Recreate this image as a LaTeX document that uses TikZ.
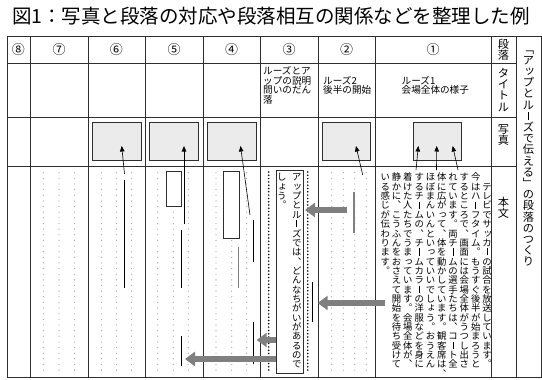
\documentclass[tikz,border=0pt]{standalone}
\usepackage{fontspec}
\usepackage{graphicx}
\usetikzlibrary{arrows.meta}
\newfontfamily\cjk{Noto Sans CJK JP}
\makeatletter
\def\vt@maru{。}
\def\vt@ten{、}
\def\vt@bou{ー}
\def\vt@lk{「}
\def\vt@rk{」}
\newcommand\vt[1]{\vbox{\offinterlineskip\vt@loop#1\relax}}
\def\vt@loop#1{\ifx\relax#1\else\vt@char{#1}\expandafter\vt@loop\fi}
\def\vt@char#1{\def\vt@c{#1}\in@{#1}{ッっょャュョゃゅ}%
  \hbox to 1em{\vrule height .88em depth .12em width 0pt\vt@glyph\hss}}
\def\vt@glyph{%
  \ifx\vt@c\vt@maru \hss︒%
  \else\ifx\vt@c\vt@ten \hss︑%
  \else\ifx\vt@c\vt@bou \hss\vrule width .07em height .78em depth -.02em%
  \else\ifx\vt@c\vt@lk \hss﹁%
  \else\ifx\vt@c\vt@rk \hss﹂%
  \else\ifin@ \hss\kern.2em\raise.1em\hbox{\vt@c}%
  \else \hss\vt@c
  \fi\fi\fi\fi\fi\fi}
\makeatother
\definecolor{linec}{HTML}{2E2E2E}
\definecolor{boxfill}{HTML}{EBEBEB}
\definecolor{arrowgray}{HTML}{7F7F7F}
\definecolor{dotc}{HTML}{A8A8A8}
\definecolor{sidegray}{HTML}{808080}
\tikzset{
  tbl/.style={draw=linec, line width=0.9pt},
  photo/.style={draw=linec, fill=boxfill, line width=0.9pt, inner sep=0pt, anchor=north west},
  markbox/.style={draw=linec, line width=0.9pt, fill=white, inner sep=0pt, anchor=north west},
  ptr/.style={draw=black, line width=0.6pt, -{Triangle[length=5.5pt,width=4.5pt]}},
  side/.style={draw=black, line width=0.8pt},
  sidegrayline/.style={draw=sidegray, line width=1.2pt},
  garrow/.style={draw=arrowgray, line width=6pt, -{Triangle[length=10pt,width=14pt]}},
  bolddots/.style={draw=black, line width=1.7pt, dash pattern=on 0pt off 3.3pt, line cap=round},
  numlabel/.style={font=\cjk\fontsize{13}{13}\selectfont, inner sep=0pt},
  smalltitle/.style={font=\cjk\fontsize{9.6}{9.6}\selectfont, align=left, inner sep=0pt, anchor=west},
  vcol/.style={font=\cjk\fontsize{9.35}{9.35}\selectfont, anchor=north, inner sep=0pt},
  vlabel/.style={font=\cjk\fontsize{11.2}{11.2}\selectfont, inner sep=0pt},
}
\begin{document}
\begin{tikzpicture}[x=1pt,y=-1pt]
\useasboundingbox (0,0) rectangle (542,380);
% title
\node[font=\cjk\fontsize{19.5}{20}\selectfont, inner sep=0pt] (title) at (271,16) {図1：写真と段落の対応や段落相互の関係などを整理した例};
% table
\draw[tbl] (7,36) rectangle (541,377);
\foreach \xx in {30,88,145,203,260,318,375,491,516} \draw[tbl] (\xx,36) -- (\xx,377);
\foreach \yy in {63,117,166} \draw[tbl] (7,\yy) -- (516,\yy);
% header numbers
\node[numlabel] (n8) at (18.5,49.5) {⑧};
\node[numlabel] (n7) at (59,49.5) {⑦};
\node[numlabel] (n6) at (116.5,49.5) {⑥};
\node[numlabel] (n5) at (174,49.5) {⑤};
\node[numlabel] (n4) at (231.5,49.5) {④};
\node[numlabel] (n3) at (289,49.5) {③};
\node[numlabel] (n2) at (346.5,49.5) {②};
\node[numlabel] (n1) at (433,49.5) {①};
% titles row
\node[smalltitle] (h3) at (263,85.5) {ルーズとア\\ップの説明\\問いのだん\\落};
\node[smalltitle] (h2) at (323,85.5) {ルーズ2\\後半の開始};
\node[smalltitle] (h1) at (401.5,85.5) {ルーズ1\\会場全体の様子};
% label column
\node[vlabel] (l1) at (503.5,50) {\vt{段落}};
\node[vlabel] (l2) at (503.5,90) {\vt{タイトル}};
\node[vlabel] (l3) at (503.5,135) {\vt{写真}};
\node[vlabel] (l4) at (503.5,208) {\vt{本文}};
\node[vlabel, anchor=north] (rt) at (528.5,43) {\vt{「アップとルーズで伝える」の段落のつくり}};
% photo boxes
\node[photo, minimum width=49pt, minimum height=38pt] (p6) at (92,122) {};
\node[photo, minimum width=49pt, minimum height=38pt] (p5) at (149,122) {};
\node[photo, minimum width=49pt, minimum height=38pt] (p4) at (207,122) {};
\node[photo, minimum width=48pt, minimum height=38pt] (p2) at (322,122) {};
\node[photo, minimum width=48pt, minimum height=38pt] (p1) at (413,122) {};
% dots
\foreach \cx in {43.3,59,74.5,101.5,116.5,131.5,157.7,188.3,216,246.7,331.7,343.3,354.8,366.3}{
  \foreach \k in {0,...,35}{\fill[dotc] (\cx,{172.7+5.64*\k}) circle (0.65pt);}}
\foreach \k in {7,...,35}{\fill[dotc] (173.3,{172.7+5.64*\k}) circle (0.65pt);}
\foreach \k in {12,...,35}{\fill[dotc] (231.7,{172.7+5.64*\k}) circle (0.65pt);}
\draw[bolddots] (268.7,172) -- (268.7,372);
\draw[bolddots] (307.7,172) -- (307.7,372);
% marked boxes
\node[markbox, minimum width=15.5pt, minimum height=35.3pt] (m5) at (165.5,170.7) {};
\node[markbox, minimum width=16pt, minimum height=67pt] (m4) at (222.7,170.7) {};
\node[markbox, minimum width=27pt, minimum height=202.7pt] (m3) at (275.7,170) {};
% side lines
\draw[side] (124.5,180) -- (124.5,288);
\draw[side] (181.5,230) -- (181.5,288);
\draw[side] (181.5,336) -- (181.5,366);
\draw[side] (253.3,220) -- (253.3,262);
\draw[sidegrayline] (238.7,247) -- (238.7,288);
\draw[side] (253.3,322) -- (253.3,364);
\draw[side] (312.7,282) -- (312.7,322);
\draw[sidegrayline] (354,192) -- (354,233);
% pointers to photos
\coordinate (s6) at (124.5,174); \coordinate (t6) at (121.7,146);
\coordinate (s5) at (184,224); \coordinate (t5) at (184,146);
\coordinate (s4) at (250,215); \coordinate (t4) at (240.5,146);
\coordinate (s2) at (362.7,175); \coordinate (t2) at (356,146);
\coordinate (s1a) at (416,170); \coordinate (t1a) at (418.3,146);
\coordinate (s1b) at (436.5,170); \coordinate (t1b) at (436.7,146);
\coordinate (s1c) at (458,170); \coordinate (t1c) at (452.7,146);
\draw[ptr] (s6) -- (t6);
\draw[ptr] (s5) -- (t5);
\draw[ptr] (s4) -- (t4);
\draw[ptr] (s2) -- (t2);
\draw[ptr] (s1a) -- (t1a);
\draw[ptr] (s1b) -- (t1b);
\draw[ptr] (s1c) -- (t1c);
% body text of paragraph 1
\node[vcol] (b1) at (487,181.8) {\vt{テレビでサッカーの試合を放送しています。}};
\node[vcol] (b2) at (475.7,172.5) {\vt{今はハーフタイム。もうすぐ後半が始まろうと}};
\node[vcol] (b3) at (464.4,172.5) {\vt{するところで、画面には会場全体がうつし出さ}};
\node[vcol] (b4) at (453.1,172.5) {\vt{れています。両チームの選手たちは、コート全}};
\node[vcol] (b5) at (441.8,172.5) {\vt{体に広がって、体を動かしています。観客席は、}};
\node[vcol] (b6) at (430.5,172.5) {\vt{ほぼまんいんといっていいでしょう。おうえん}};
\node[vcol] (b7) at (419.2,172.5) {\vt{するチームの、チームカラーの洋服などを身に}};
\node[vcol] (b8) at (407.9,172.5) {\vt{着けた人たちでうまっています。会場全体が、}};
\node[vcol] (b9) at (396.6,172.5) {\vt{静かに、こうふんをおさえて開始を待ち受けて}};
\node[vcol] (b10) at (385.3,172.5) {\vt{いる感じが伝わります。}};
% paragraph 3 text
\node[vcol] (c1) at (296.7,172.5) {\vt{アップとルーズでは、どんなちがいがあるので}};
\node[vcol] (c2) at (281.7,172.5) {\vt{しょう。}};
% gray relation arrows
\coordinate (ga) at (347,210); \coordinate (gae) at (305,210);
\coordinate (gb) at (385,303); \coordinate (gbe) at (317.7,303);
\coordinate (gc) at (275.7,340); \coordinate (gce) at (256.7,340);
\coordinate (gd) at (275.7,359); \coordinate (gde) at (185,359);
\draw[garrow] (ga) -- (gae);
\draw[garrow] (gb) -- (gbe);
\draw[garrow] (gc) -- (gce);
\draw[garrow] (gd) -- (gde);
\end{tikzpicture}
\end{document}
